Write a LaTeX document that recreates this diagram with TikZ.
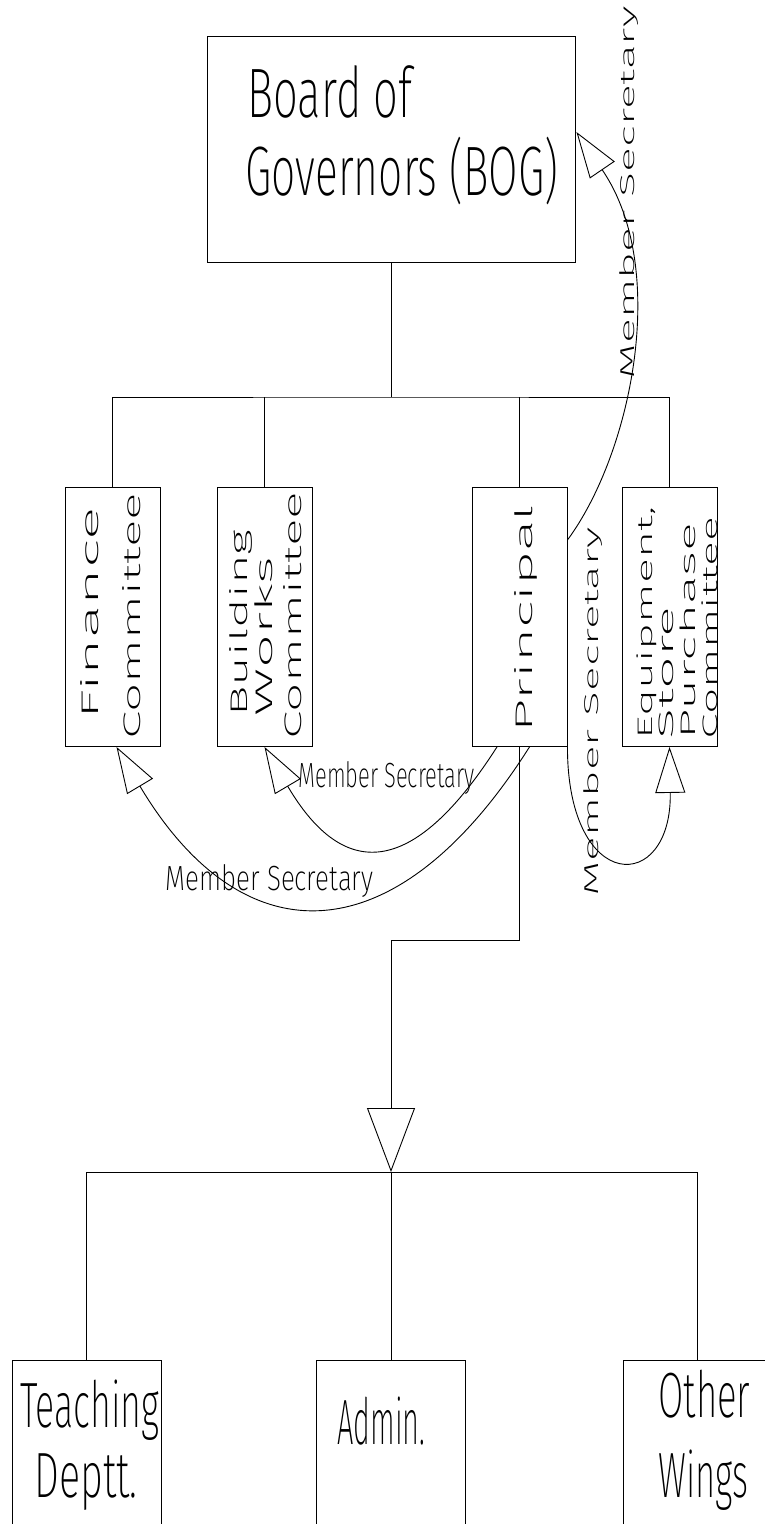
\documentclass[tikz,border=0pt]{standalone}
\usepackage{fontspec}
\usepackage{graphicx}
\usetikzlibrary{arrows.meta,calc}
\newfontfamily\cadfont{Fira Sans ExtraLight}
\newcommand{\fitw}[2]{\resizebox{#1}{\height}{#2}}

\begin{document}
\begin{tikzpicture}[
    x=1pt, y=-1pt,
    line width=0.9pt,
    bigbox/.style={draw,inner sep=0,minimum width=368pt,minimum height=226pt,anchor=north},
    box/.style={draw,inner sep=0,minimum width=95pt,minimum height=259pt,anchor=north},
    botbox/.style={draw,inner sep=0,minimum width=149pt,minimum height=220pt,anchor=north},
    txt/.style={inner sep=0,anchor=base west},
    bogtxt/.style={txt,font=\cadfont\fontsize{70}{70}\selectfont},
    bottxt/.style={txt,font=\cadfont\fontsize{64}{64}\selectfont},
    mstxt/.style={txt,font=\cadfont\fontsize{35}{35}\selectfont},
    msvtxt/.style={txt,rotate=90,font=\cadfont\fontsize{20}{20}\selectfont},
    vtxt/.style={txt,rotate=90,font=\cadfont\fontsize{24}{24}\selectfont},
    vtxtsm/.style={txt,rotate=90,font=\cadfont\fontsize{21}{21}\selectfont},
    msarrow/.style={-{Triangle[open,length=46pt,width=30pt]}},
    bigarrow/.style={-{Triangle[open,length=64pt,width=48pt]}}
  ]
  \useasboundingbox (0,0) rectangle (765,1524);
  \clip (0,0) rectangle (765,1524);

  \node[bigbox] (bog) at (391,36) {};
  \node[box] (fin) at (112.5,487) {};
  \node[box] (bld) at (264.5,487) {};
  \node[box] (pri) at (519.5,487) {};
  \node[box] (equ) at (669.5,487) {};
  \node[botbox] (teach) at (86.5,1360) {};
  \node[botbox] (admin) at (391,1360) {};
  \node[botbox] (other) at (697.5,1360) {};

  \coordinate (top bus) at (391,397);
  \coordinate (jog) at (391,940);
  \coordinate (low bus) at (391,1172);

  \draw (bog.south) -- (top bus);
  \draw (fin.north) |- (top bus) -| (equ.north);
  \draw (bld.north) -- (bld.north |- top bus);
  \draw (pri.north) -- (pri.north |- top bus);
  \draw[bigarrow] (pri.south) |- (jog) -- (low bus);
  \draw (teach.north) |- (low bus) -| (other.north);
  \draw (low bus) -- (admin.north);

  \draw[msarrow] ($(pri.north east)+(0,53)$) .. controls +(63,-85) and +(94,138) .. ($(bog.north east)+(1,96)$);
  \draw[msarrow] ($(pri.south)+(-22.5,0)$) .. controls +(-85,133) and +(78.5,133) .. (bld.south);
  \draw[msarrow] ($(pri.south)+(10,0)$) .. controls +(-133.5,211) and +(126.5,212) .. ($(fin.south)+(4,0)$);
  \draw[msarrow] (pri.south east) .. controls +(0,148) and +(2.5,148) .. (equ.south);

  \node[bogtxt] (bog a) at (247,117) {\fitw{165pt}{Board of}};
  \node[bogtxt] (bog b) at (245,195) {\fitw{313pt}{Governors (BOG)}};

  \node[vtxt] (fin a) at (98,720) {\fitw{212pt}{Finance}};
  \node[vtxt] (fin b) at (140,740) {\fitw{247pt}{Committee}};
  \node[vtxt] (bld a) at (247,717) {\fitw{187pt}{Building}};
  \node[vtxt] (bld b) at (272,717) {\fitw{160pt}{Works}};
  \node[vtxt] (bld c) at (301,740) {\fitw{248pt}{Committee}};
  \node[vtxt] (pri a) at (532,733) {\fitw{228pt}{Principal}};
  \node[vtxtsm] (equ a) at (652,740) {\fitw{233pt}{Equipment,}};
  \node[vtxtsm] (equ b) at (673,740) {\fitw{133pt}{Store}};
  \node[vtxtsm] (equ c) at (695,740) {\fitw{217pt}{Purchase}};
  \node[vtxtsm] (equ d) at (717,740) {\fitw{223pt}{Committee}};

  \node[msvtxt] (ms bog) at (634,380) {\fitw{373pt}{Member Secretary}};
  \node[mstxt] (ms bld) at (298,787) {\fitw{176pt}{Member Secretary}};
  \node[mstxt] (ms fin) at (165,890) {\fitw{208pt}{Member Secretary}};
  \node[msvtxt] (ms equ) at (598,897) {\fitw{369pt}{Member Secretary}};

  \node[bottxt] (teach a) at (20,1427) {\fitw{139pt}{Teaching}};
  \node[bottxt] (teach b) at (34,1497) {\fitw{103pt}{Deptt.}};
  \node[bottxt] (admin a) at (337,1444) {\fitw{88pt}{Admin.}};
  \node[bottxt] (other a) at (658,1417) {\fitw{92pt}{Other}};
  \node[bottxt] (other b) at (658,1497) {\fitw{90pt}{Wings}};
\end{tikzpicture}
\end{document}
